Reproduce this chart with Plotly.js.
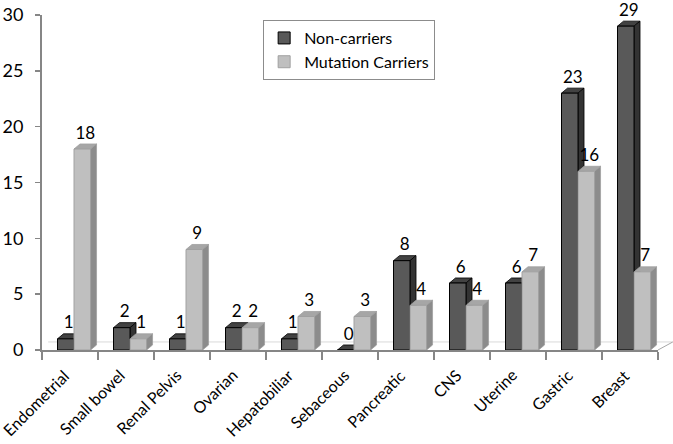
<!DOCTYPE html>
<html>
<head>
<meta charset="utf-8">
<script src="https://cdn.plot.ly/plotly-3.0.1.min.js"></script>
<style>
    html, body { margin: 0; padding: 0; background: #fff; }
    #chart { width: 673px; height: 444px; }
</style>
</head>
<body>
<div id="chart"></div>
<script>
// Chart data
const categories = ['Endometrial', 'Small bowel', 'Renal Pelvis', 'Ovarian', 'Hepatobiliar',
    'Sebaceous', 'Pancreatic', 'CNS', 'Uterine', 'Gastric', 'Breast'];
const nonCarriers = [1, 2, 1, 2, 1, 0, 8, 6, 6, 23, 29];
const mutationCarriers = [18, 1, 9, 2, 3, 3, 4, 4, 7, 16, 7];
const seriesNames = ['Non-carriers', 'Mutation Carriers'];

// Fake 3D look: bar width and depth offset (in axis units)
const BAR_W = 0.295;
const DEPTH_X = 0.107;
const DEPTH_Y = 0.45;
const LABEL_GAP = 0.1;

const series = [
    { name: seriesNames[0], values: nonCarriers, offset: -0.223,
      front: '#595959', side: '#333333', top: '#424242', edge: '#000000' },
    { name: seriesNames[1], values: mutationCarriers, offset: 0.072,
      front: '#bfbfbf', side: '#8c8c8c', top: '#a6a6a6', edge: '#a0a0a0' }
];

const xIdx = categories.map((c, i) => i);
const traces = [];
const shapes = [];

series.forEach(s => {
    traces.push({
        type: 'bar',
        name: s.name,
        x: xIdx,
        y: s.values,
        offset: s.offset,
        width: BAR_W,
        marker: { color: s.front, line: { color: s.edge, width: 1 } },
        hoverinfo: 'skip'
    });

    // top and side faces
    s.values.forEach((v, i) => {
        const x0 = i + s.offset;
        const x1 = x0 + BAR_W;
        shapes.push({
            type: 'path', xref: 'x', yref: 'y', layer: 'below',
            path: `M${x0},${v} L${x1},${v} L${x1 + DEPTH_X},${v + DEPTH_Y} L${x0 + DEPTH_X},${v + DEPTH_Y} Z`,
            fillcolor: s.top, line: { color: s.edge, width: 0.8 }
        });
        shapes.push({
            type: 'path', xref: 'x', yref: 'y', layer: 'below',
            path: `M${x1},0 L${x1 + DEPTH_X},${DEPTH_Y} L${x1 + DEPTH_X},${v + DEPTH_Y} L${x1},${v} Z`,
            fillcolor: s.side, line: { color: s.edge, width: 0.8 }
        });
    });
});

// value labels above each bar
series.forEach(s => {
    traces.push({
        type: 'scatter',
        mode: 'text',
        x: xIdx.map(i => i + s.offset + BAR_W / 2 + DEPTH_X / 2),
        y: s.values.map(v => v + DEPTH_Y + LABEL_GAP),
        text: s.values.map(String),
        textposition: 'top center',
        textfont: { family: 'Lato, sans-serif', size: 17, color: '#000' },
        cliponaxis: false,
        showlegend: false,
        hoverinfo: 'skip'
    });
});

// rotated category labels under the axis
const annotations = categories.map((c, i) => ({
    text: c,
    xref: 'x', yref: 'paper',
    x: i, y: 0,
    xshift: 4, yshift: -14,
    xanchor: 'right', yanchor: 'top',
    textangle: -45,
    showarrow: false,
    borderpad: 0,
    font: { family: 'Lato, sans-serif', size: 16, color: '#000' }
}));

const layout = {
    width: 673,
    height: 444,
    margin: { l: 42, r: 15, t: 15, b: 94 },
    paper_bgcolor: '#fff',
    plot_bgcolor: '#fff',
    font: { family: 'Lato, sans-serif', size: 17, color: '#000' },
    showlegend: true,
    barmode: 'overlay',
    xaxis: {
        range: [-0.5, 10.5],
        tickvals: categories.map((c, i) => i - 0.5).concat([10.5]),
        ticktext: categories.map(() => '').concat(['']),
        ticks: 'outside',
        ticklen: 8,
        tickcolor: '#868686',
        tickwidth: 1.5,
        showline: true,
        linecolor: '#868686',
        linewidth: 2,
        showgrid: false,
        zeroline: false
    },
    yaxis: {
        range: [0, 30],
        dtick: 5,
        ticks: 'outside',
        ticklen: 5,
        tickcolor: '#868686',
        tickwidth: 1.5,
        showline: true,
        linecolor: '#868686',
        linewidth: 2,
        showgrid: false,
        zeroline: false,
        ticklabelstandoff: 8,
        tickfont: { family: 'Lato, sans-serif', size: 18, color: '#000' }
    },
    legend: {
        x: 0.359,
        y: 0.985,
        xanchor: 'left',
        yanchor: 'top',
        bgcolor: '#fff',
        bordercolor: '#8c8c8c',
        borderwidth: 1,
        font: { family: 'Lato, sans-serif', size: 16, color: '#000' },
        itemwidth: 30
    },
    annotations: annotations,
    shapes: shapes.concat([
        // floor back edge and right corner
        { type: 'line', xref: 'paper', yref: 'paper', layer: 'below',
          x0: 0.01, x1: 1.024, y0: 0.024, y1: 0.024,
          line: { color: '#d9d9d9', width: 1 } },
        { type: 'line', xref: 'paper', yref: 'paper', layer: 'above',
          x0: 1, x1: 1.024, y0: 0, y1: 0.024,
          line: { color: '#a6a6a6', width: 1 } }
    ])
};

Plotly.newPlot('chart', traces, layout, { displayModeBar: false, staticPlot: true });
</script>
</body>
</html>
